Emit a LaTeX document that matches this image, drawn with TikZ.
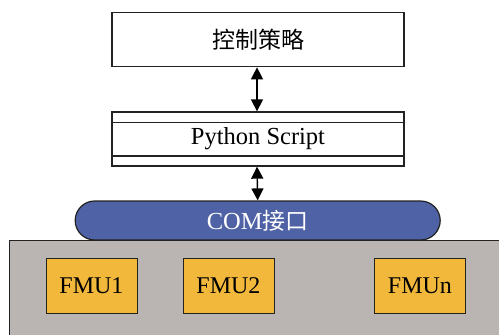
\documentclass[tikz,border=0pt]{standalone}
\usepackage{fontspec}
\setmainfont{Liberation Serif}
\newfontfamily\cjk{Noto Sans CJK SC}
\usetikzlibrary{arrows.meta}
\definecolor{comblue}{HTML}{4F62A5}
\definecolor{hostgray}{HTML}{BAB5B2}
\definecolor{fmuorange}{HTML}{F2B83C}
\definecolor{edge}{HTML}{222222}
\tikzset{
  layerbox/.style={draw=edge, line width=1.3pt, fill=white, minimum width=292pt,
    minimum height=54pt, inner sep=0pt, font=\fontsize{24.5}{27}\selectfont},
  fmubox/.style={draw=edge, line width=1pt, fill=fmuorange, minimum width=91pt,
    minimum height=55pt, inner sep=0pt, font=\fontsize{24}{27}\selectfont},
  link/.style={line width=1.4pt, {Triangle[length=12pt,width=12pt]}-{Triangle[length=12pt,width=12pt]}}
}
\begin{document}
\begin{tikzpicture}[x=1pt,y=-1pt]
\useasboundingbox (0,0) rectangle (499,335);
% host environment
\fill[hostgray] (9.3,240.3) rectangle (499,335);
\draw[edge, line width=1.2pt] (9.3,335) -- (9.3,240.3) -- (499,240.3);
% layers
\node[layerbox] (ctrl) at (258,39.7) {\cjk\fontsize{23}{26}\selectfont 控制策略};
\node[layerbox] (py) at (258,139) {Python Script};
\draw[edge, line width=1.1pt] ([yshift=-10.7pt]py.north west) -- ([yshift=-10.7pt]py.north east);
\draw[edge, line width=1.1pt] ([yshift=10.7pt]py.south west) -- ([yshift=10.7pt]py.south east);
\node[draw=edge, line width=1.2pt, fill=comblue, rounded corners=19.5pt,
  minimum width=365pt, minimum height=39pt, inner sep=0pt, text=white,
  font=\fontsize{24.5}{27}\selectfont] (com) at (257.7,220.5) {COM{\cjk\fontsize{23}{26}\selectfont 接口}};
% FMUs
\node[fmubox] (f1) at (91.5,285.5) {FMU1};
\node[fmubox] (f2) at (228.5,285.5) {FMU2};
\node[fmubox] (fn) at (420,285.5) {FMUn};
% connectors
\draw[link] ([xshift=-1pt]ctrl.south) -- ([xshift=-1pt]py.north);
\draw[link] ([xshift=-1pt]py.south) -- (com.north);
\end{tikzpicture}
\end{document}
